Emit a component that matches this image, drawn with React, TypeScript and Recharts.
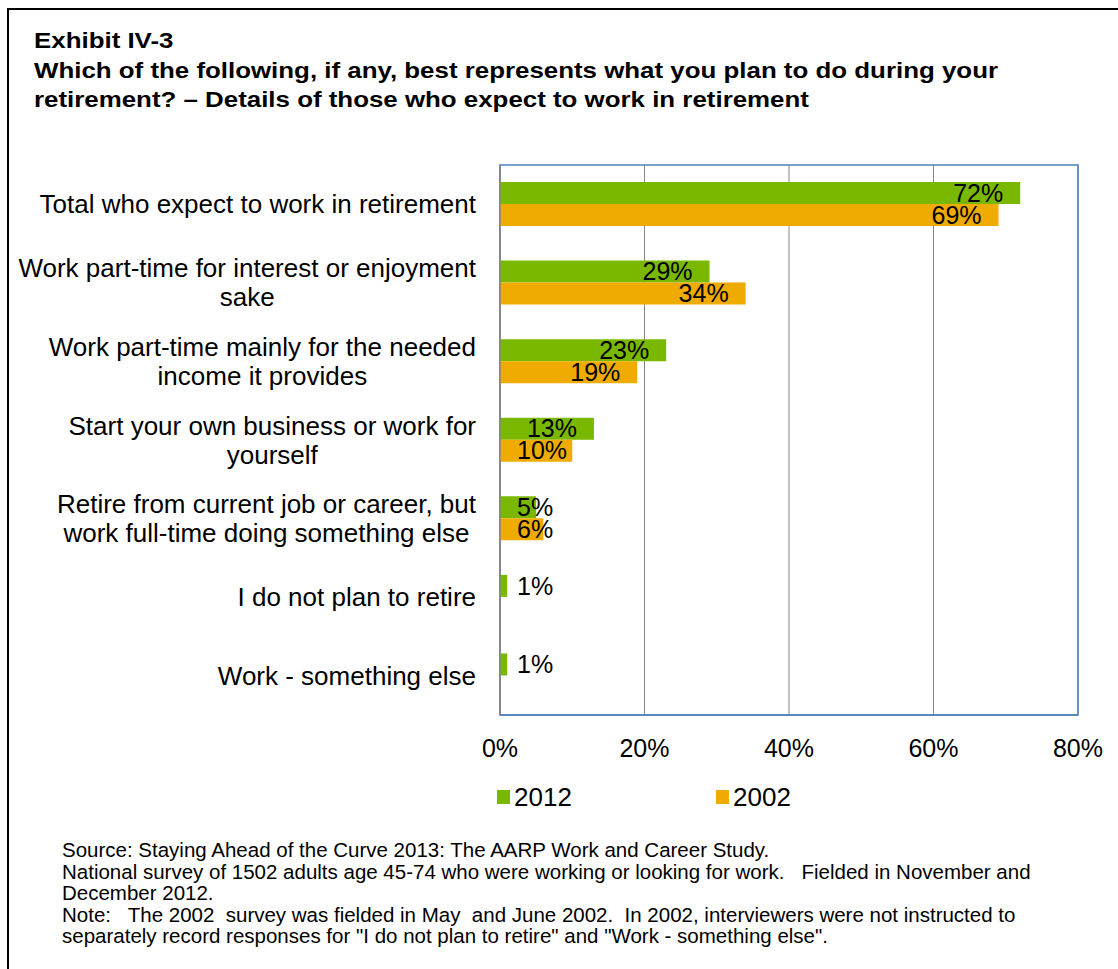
import React from 'react';
import { BarChart, Bar, XAxis, YAxis, CartesianGrid, Legend, LabelList, ReferenceArea } from 'recharts';

const categories = [
  'Total who expect to work in retirement',
  'Work part-time for interest or enjoyment\nsake',
  'Work part-time mainly for the needed\nincome it provides',
  'Start your own business or work for\nyourself',
  'Retire from current job or career, but\nwork full-time doing something else',
  'I do not plan to retire',
  'Work - something else',
];
const values2012 = [0.72, 0.29, 0.23, 0.13, 0.05, 0.01, 0.01];
const values2002: (number | null)[] = [0.69, 0.34, 0.19, 0.1, 0.06, null, null];
const xTicks = [0, 0.2, 0.4, 0.6, 0.8];

const titleLines = [
  'Exhibit IV-3',
  'Which of the following, if any, best represents what you plan to do during your',
  'retirement? \u2013 Details of those who expect to work in retirement',
];
const footerLines = [
  'Source: Staying Ahead of the Curve 2013: The AARP Work and Career Study.',
  'National survey of 1502 adults age 45-74 who were working or looking for work.   Fielded in November and',
  'December 2012.',
  'Note:   The 2002  survey was fielded in May  and June 2002.  In 2002, interviewers were not instructed to',
  'separately record responses for "I do not plan to retire" and "Work - something else".',
];

const data = categories.map((name, i) => ({ name, y2012: values2012[i], y2002: values2002[i] }));

const FONT = "'Liberation Sans', Arial, sans-serif";
const GREEN = '#7AB800';
const ORANGE = '#F0AB00';
const pct = (v: number) => `${Math.round(v * 100)}%`;

// text width via canvas, used for centering wrapped labels and placing bar labels
let ctx: CanvasRenderingContext2D | null = null;
function textWidth(s: string, size: number) {
  if (!ctx) ctx = document.createElement('canvas').getContext('2d');
  if (!ctx) return s.length * size * 0.5;
  ctx.font = `${size}px ${FONT}`;
  return ctx.measureText(s).width;
}

function CategoryTick(props: any) {
  const { x, y, payload } = props;
  const lines: string[] = String(payload.value).split('\n');
  const widths = lines.map(l => textWidth(l, 26));
  const maxW = Math.max(...widths);
  const lh = 29;
  const top = y - ((lines.length - 1) * lh) / 2;
  return (
    <g>
      {lines.map((l, i) => (
        <text key={i} x={x - maxW / 2} y={top + i * lh} dy="0.35em" textAnchor="middle"
          fontSize={26} fontFamily={FONT} fill="#000">{l}</text>
      ))}
    </g>
  );
}

function BarValueLabel(props: any) {
  const { x, y, width, height, value } = props;
  if (value == null) return null;
  const s = pct(value);
  const tw = textWidth(s, 25);
  const end = x + width - 17;
  const start = Math.max(517, end - tw);
  return (
    <text x={start} y={y + height / 2} dy="0.35em" textAnchor="start" fontSize={25} fontFamily={FONT} fill="#000">{s}</text>
  );
}

function LegendBox() {
  const item = (left: number, color: string, label: string) => (
    <div style={{ position: 'absolute', left, top: 0, height: 30, display: 'flex', alignItems: 'center' }}>
      <span style={{ width: 13, height: 14, background: color, display: 'inline-block', marginRight: 4 }} />
      <span style={{ fontSize: 26, fontFamily: FONT, color: '#000' }}>{label}</span>
    </div>
  );
  return (
    <div style={{ position: 'relative', width: 1118, height: 30 }}>
      {item(497, GREEN, '2012')}
      {item(716, ORANGE, '2002')}
    </div>
  );
}

export default function App() {
  return (
    <div style={{ position: 'relative', width: 1118, height: 969, overflow: 'hidden', background: '#fff', fontFamily: FONT }}>
      <style>{'body{margin:0}'}</style>
      <div style={{ position: 'absolute', left: 7, top: 8, width: 1200, height: 1200, borderTop: '2px solid #000', borderLeft: '2px solid #000' }} />
      <div style={{ position: 'absolute', left: 34, top: 26, fontWeight: 'bold', fontSize: 22, lineHeight: '29.5px', transform: 'scaleX(1.176)', transformOrigin: 'left top', whiteSpace: 'nowrap' }}>
        {titleLines.map((l, i) => <div key={i}>{l}</div>)}
      </div>

      <div style={{ position: 'absolute', left: 0, top: 0 }}>
        <BarChart width={1118} height={812} data={data} layout="vertical"
          margin={{ top: 165, right: 40, bottom: 0, left: 0 }} barGap={0} barCategoryGap={0}>
          <CartesianGrid horizontal={false} stroke="#868686" />
          <ReferenceArea x1={0} x2={0.8} fill="none" stroke="#4F81BD" strokeWidth={1.5} ifOverflow="visible" />
          <XAxis type="number" domain={[0, 0.8]} ticks={xTicks} tickFormatter={pct} height={67}
            axisLine={{ stroke: '#4F81BD', strokeWidth: 1.5 }} tickLine={false} tickSize={0} tickMargin={24}
            tick={{ fill: '#000', fontSize: 25, fontFamily: FONT }} />
          <YAxis type="category" dataKey="name" width={500} interval={0} tickLine={false} tickSize={0} tickMargin={24}
            axisLine={{ stroke: '#868686', strokeWidth: 1.5 }} tick={<CategoryTick />} />
          <Legend verticalAlign="bottom" height={30} content={() => <LegendBox />} />
          <Bar dataKey="y2012" name="2012" fill={GREEN} barSize={22} isAnimationActive={false}>
            <LabelList dataKey="y2012" content={<BarValueLabel />} />
          </Bar>
          <Bar dataKey="y2002" name="2002" fill={ORANGE} barSize={22} isAnimationActive={false}>
            <LabelList dataKey="y2002" content={<BarValueLabel />} />
          </Bar>
        </BarChart>
      </div>

      <div style={{ position: 'absolute', left: 62, top: 839, fontSize: 20.5, lineHeight: '21.5px', whiteSpace: 'pre', color: '#000' }}>
        {footerLines.map((l, i) => <div key={i}>{l}</div>)}
      </div>
    </div>
  );
}
